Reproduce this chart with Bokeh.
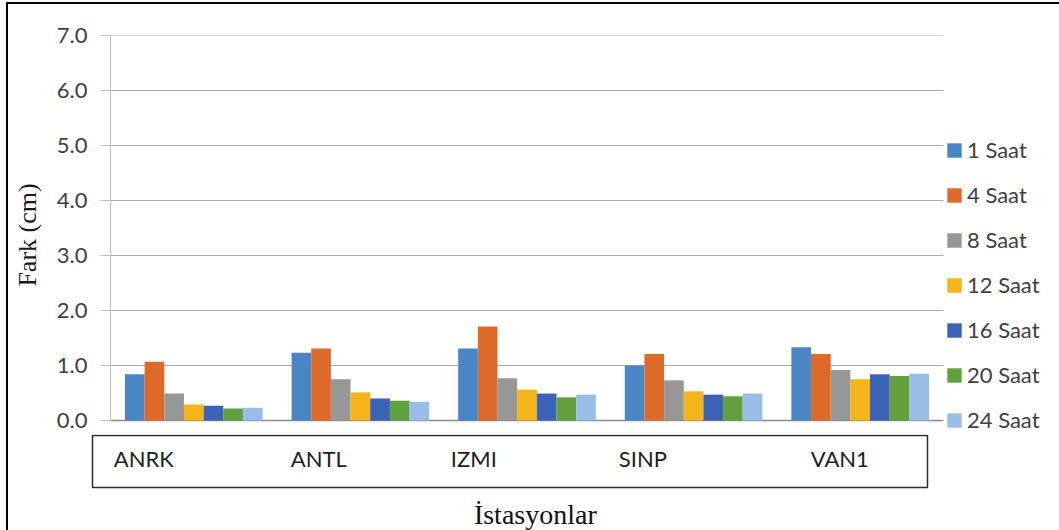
from bokeh.plotting import figure
from bokeh.models import ColumnDataSource, Range1d, FixedTicker, Legend, LegendItem
from bokeh.transform import dodge
from bokeh.layouts import column
from bokeh.embed import file_html
from bokeh.resources import INLINE
from bokeh.core.properties import value

# ---------------- data ----------------
stations = ["ANRK", "ANTL", "IZMI", "SINP", "VAN1"]
series_names = ["1 Saat", "4 Saat", "8 Saat", "12 Saat", "16 Saat", "20 Saat", "24 Saat"]
saat_1 = [0.84, 1.23, 1.31, 1.00, 1.33]
saat_4 = [1.07, 1.31, 1.71, 1.21, 1.21]
saat_8 = [0.49, 0.75, 0.77, 0.73, 0.92]
saat_12 = [0.29, 0.51, 0.56, 0.53, 0.75]
saat_16 = [0.27, 0.40, 0.49, 0.47, 0.84]
saat_20 = [0.22, 0.36, 0.42, 0.44, 0.81]
saat_24 = [0.23, 0.34, 0.47, 0.49, 0.85]
y_ticks = [0, 1, 2, 3, 4, 5, 6, 7]
y_tick_labels = ["0.0", "1.0", "2.0", "3.0", "4.0", "5.0", "6.0", "7.0"]
y_title = "Fark (cm)"
x_title = "İstasyonlar"

series_values = [saat_1, saat_4, saat_8, saat_12, saat_16, saat_20, saat_24]
colors = ["#4a86c6", "#de6a2a", "#979797", "#f4b41a", "#3a62b6", "#62a03f", "#98bee8"]

# ---------------- layout constants ----------------
OX, OY = 8, 4               # content offset inside the outer border
W = 1059 - OX
SPLIT = 434                 # page y where the category strip starts
PX = 833 / 5.0              # pixels per station group
PY = 55.0                   # pixels per cm
BW = 0.118                  # bar width (group units)
label_offsets = [-0.48, -0.418, -0.457, -0.449, -0.297]

src = ColumnDataSource(data=dict(
    x=list(range(len(stations))),
    **{name: vals for name, vals in zip(series_names, series_values)}
))

# ---------------- main chart ----------------
pA = figure(width=W, height=SPLIT - OY,
            x_range=Range1d(-0.5, 4.5 + (1059 - 943) / PX),
            y_range=Range1d(-(SPLIT - 420) / PY, 7),
            output_backend="svg", toolbar_location=None,
            min_border_left=110 - OX, min_border_right=0,
            min_border_top=35 - OY, min_border_bottom=0)
pA.frame_align = False
pA.outline_line_color = None
pA.xaxis.visible = False
pA.grid.visible = False

# horizontal gridlines (stop at the end of the category axis) and baseline
pA.segment(x0=-0.5, x1=4.5, y0=y_ticks[1:], y1=y_ticks[1:],
           line_color="#ababab", line_width=1)
pA.segment(x0=-0.5, x1=4.5, y0=y_ticks[:1], y1=y_ticks[:1],
           line_color="#8c8c8c", line_width=1.5)

yax = pA.yaxis[0]
yax.ticker = FixedTicker(ticks=y_ticks)
yax.major_label_overrides = {t: l for t, l in zip(y_ticks, y_tick_labels)}
yax.bounds = (0, 7)
yax.axis_line_color = "#bfbfbf"
yax.major_tick_line_color = "#bfbfbf"
yax.major_tick_out = 10
yax.major_tick_in = 0
yax.minor_tick_line_color = None
yax.major_label_standoff = 13
yax.major_label_text_font = "Lato"
yax.major_label_text_font_size = "22px"
yax.major_label_text_color = "#404040"
yax.axis_label = y_title
yax.axis_label_text_font = "Liberation Serif"
yax.axis_label_text_font_size = "26px"
yax.axis_label_text_font_style = "normal"
yax.axis_label_text_color = "#1a1a1a"
yax.axis_label_standoff = 12

items = []
for k, name in enumerate(series_names):
    r = pA.vbar(x=dodge("x", (k - 3) * BW, range=pA.x_range), top=name, width=BW,
                source=src, fill_color=colors[k], line_color=None)
    items.append(LegendItem(label=name, renderers=[r]))

legend = Legend(items=items, location=(835, 1),
                padding=0, margin=0, spacing=18,
                glyph_width=18, glyph_height=18, label_height=25,
                label_standoff=4,
                label_text_font="Lato", label_text_font_size="22px",
                label_text_color="#404040",
                border_line_color=None, background_fill_alpha=0)
pA.add_layout(legend)

# ---------------- category box + x title ----------------
HB = 530 - SPLIT
pB = figure(width=W, height=HB,
            x_range=Range1d(-0.5 - (110 - OX) / PX, 4.5 + (1059 - 943) / PX),
            y_range=Range1d(HB, 0),
            output_backend="svg", toolbar_location=None, min_border=0)
pB.frame_align = False
pB.axis.visible = False
pB.grid.visible = False
pB.outline_line_color = None

pB.quad(left=[-0.5 - 18 / PX], right=[4.5 - 16 / PX], top=[1], bottom=[487 - SPLIT],
        fill_color=None, line_color="#2b2b2b", line_width=1.5)
pB.text(x=[i + o for i, o in zip(range(len(stations)), label_offsets)],
        y=[458 - SPLIT] * len(stations), text=stations,
        text_align="left", text_baseline="middle",
        text_font=value("Lato"), text_font_size="22px", text_color="#1e1e1e")
pB.text(x=[2.05], y=[514 - SPLIT], text=[x_title], text_align="center", text_baseline="middle",
        text_font=value("Liberation Serif"), text_font_size="28px", text_color="#111111")

layout = column(pA, pB, margin=(2, 0, 0, 6),
                styles={"border-left": "2px solid black", "border-top": "2px solid black"})

open("out.html", "w").write(file_html(layout, INLINE))
